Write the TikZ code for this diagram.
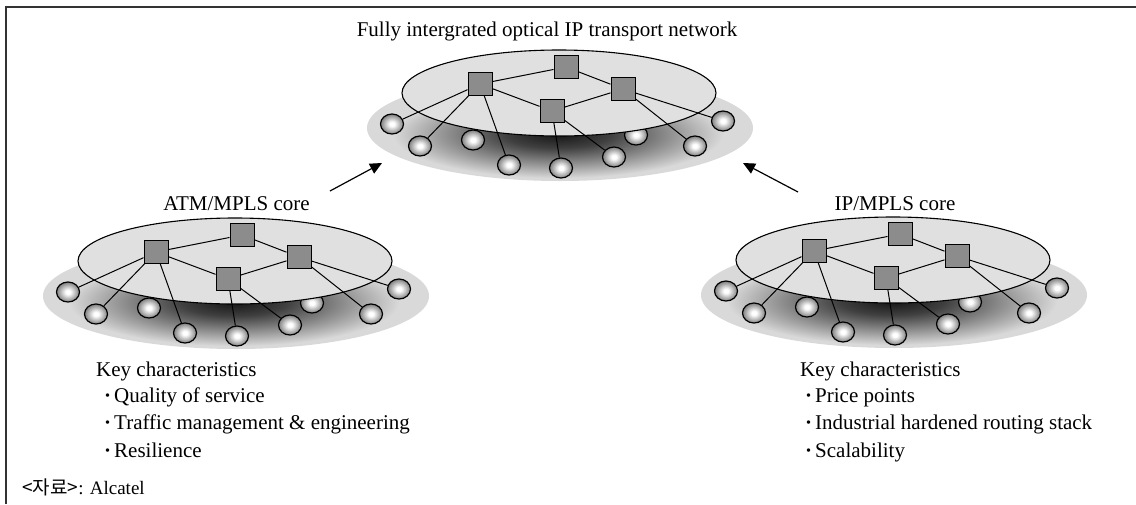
\documentclass[tikz,border=0pt]{standalone}
\usepackage{fontspec}
\setmainfont{Liberation Serif}
\newfontfamily\krfont{Noto Sans CJK KR}
\usetikzlibrary{arrows.meta,shapes.geometric,backgrounds}
\pgfdeclareradialshading{sphere}{\pgfpoint{0bp}{0bp}}{color(0bp)=(white); color(5bp)=(white); color(25bp)=(black!50); color(50bp)=(black!50)}
\pgfdeclareradialshading{netshadow}{\pgfpoint{0bp}{0bp}}{color(0bp)=(black!92); color(8bp)=(black!75); color(25bp)=(gray!30); color(50bp)=(gray!30)}
\newcommand{\dotmark}{{\bfseries ·}\hspace{3pt}}
\tikzset{
    >={Triangle[length=12pt,width=11pt]},
    txt/.style={font=\fontsize{21}{25}\selectfont,inner sep=0pt},
    router/.style={rectangle,draw,line width=1pt,fill=black!45,minimum width=24pt,minimum height=23pt,inner sep=0pt},
    host/.style={ellipse,draw,line width=1.2pt,shade,shading=sphere,minimum width=23pt,minimum height=20pt,inner sep=0pt},
    plane/.style={draw,line width=1.1pt,fill=black!12},
    floor/.style={fill=gray!30},
    link/.style={line width=1pt}
}
% one core network, #1 = name prefix, shifted by (#2,#3)
\newcommand{\corenet}[3]{%
    \begin{scope}[shift={(#2,#3)}]
        \begin{pgfonlayer}{background}
            \fill[floor] (560,128) ellipse [x radius=193,y radius=53];
            \shade[shading=netshadow] (558,134) ellipse [x radius=165,y radius=44];
            \node[host] (#1c3) at (473,140) {};
            \node[host] (#1c7) at (636,135) {};
            \path[plane] (559,93) ellipse [x radius=157,y radius=43];
        \end{pgfonlayer}
        \node[router] (#1s1) at (480,84) {};
        \node[router] (#1s2) at (566,67) {};
        \node[router] (#1s3) at (623,89) {};
        \node[router] (#1s4) at (552,111) {};
        \foreach \n/\x/\y in {c1/392/124,c2/420/146,c4/509/165,c5/561/168,c6/614/157,c8/695/146,c9/723/121}
            \node[host] (#1\n) at (\x,\y) {};
        \draw[link] (#1s1) -- (#1s2) -- (#1s3) -- (#1s4) -- (#1s1);
        \foreach \a/\b in {s1/c1,s1/c2,s1/c4,s4/c5,s4/c6,s3/c8,s3/c9}
            \draw[link] (#1\a) -- (#1\b);
    \end{scope}}

\begin{document}
\begin{tikzpicture}[x=1pt,y=-1pt]
    \useasboundingbox (0,0) rectangle (1136,504);
    % Frame
    \draw[line width=2pt,black!80] (5.5,504) -- (5.5,6.5) -- (1136,6.5);

    % Networks
    \corenet{top}{0}{0}
    \corenet{atm}{-324}{168}
    \corenet{ip}{334}{167}

    % Titles
    \node[txt,anchor=base] (title) at (547,36.5) {Fully intergrated optical IP transport network};
    \node[txt,anchor=base] (atmcore) at (236.5,210.5) {ATM/MPLS core};
    \node[txt,anchor=base] (ipcore) at (895,210.5) {IP/MPLS core};

    % Arrows
    \coordinate (atmtail) at (330,191);
    \coordinate (atmhead) at (382,163);
    \coordinate (iptail) at (798,192);
    \coordinate (iphead) at (743,163);
    \draw[->,line width=1.2pt] (atmtail) -- (atmhead);
    \draw[->,line width=1.2pt] (iptail) -- (iphead);

    % Key characteristics
    \node[txt,anchor=base west] (atmkey) at (96,376) {Key characteristics};
    \node[txt,anchor=base west] (atmkey1) at (104,402) {\dotmark Quality of service};
    \node[txt,anchor=base west] (atmkey2) at (104,429.5) {\dotmark Traffic management \& engineering};
    \node[txt,anchor=base west] (atmkey3) at (104,457) {\dotmark Resilience};

    \node[txt,anchor=base west] (ipkey) at (800,376) {Key characteristics};
    \node[txt,anchor=base west] (ipkey1) at (805,402) {\dotmark Price points};
    \node[txt,anchor=base west] (ipkey2) at (805,429.5) {\dotmark Industrial hardened routing stack};
    \node[txt,anchor=base west] (ipkey3) at (805,457) {\dotmark Scalability};

    % Source
    \node[txt,anchor=base west,font=\fontsize{19}{23}\selectfont] (source) at (22,494) {{\krfont <자료>}: Alcatel};
\end{tikzpicture}
\end{document}
